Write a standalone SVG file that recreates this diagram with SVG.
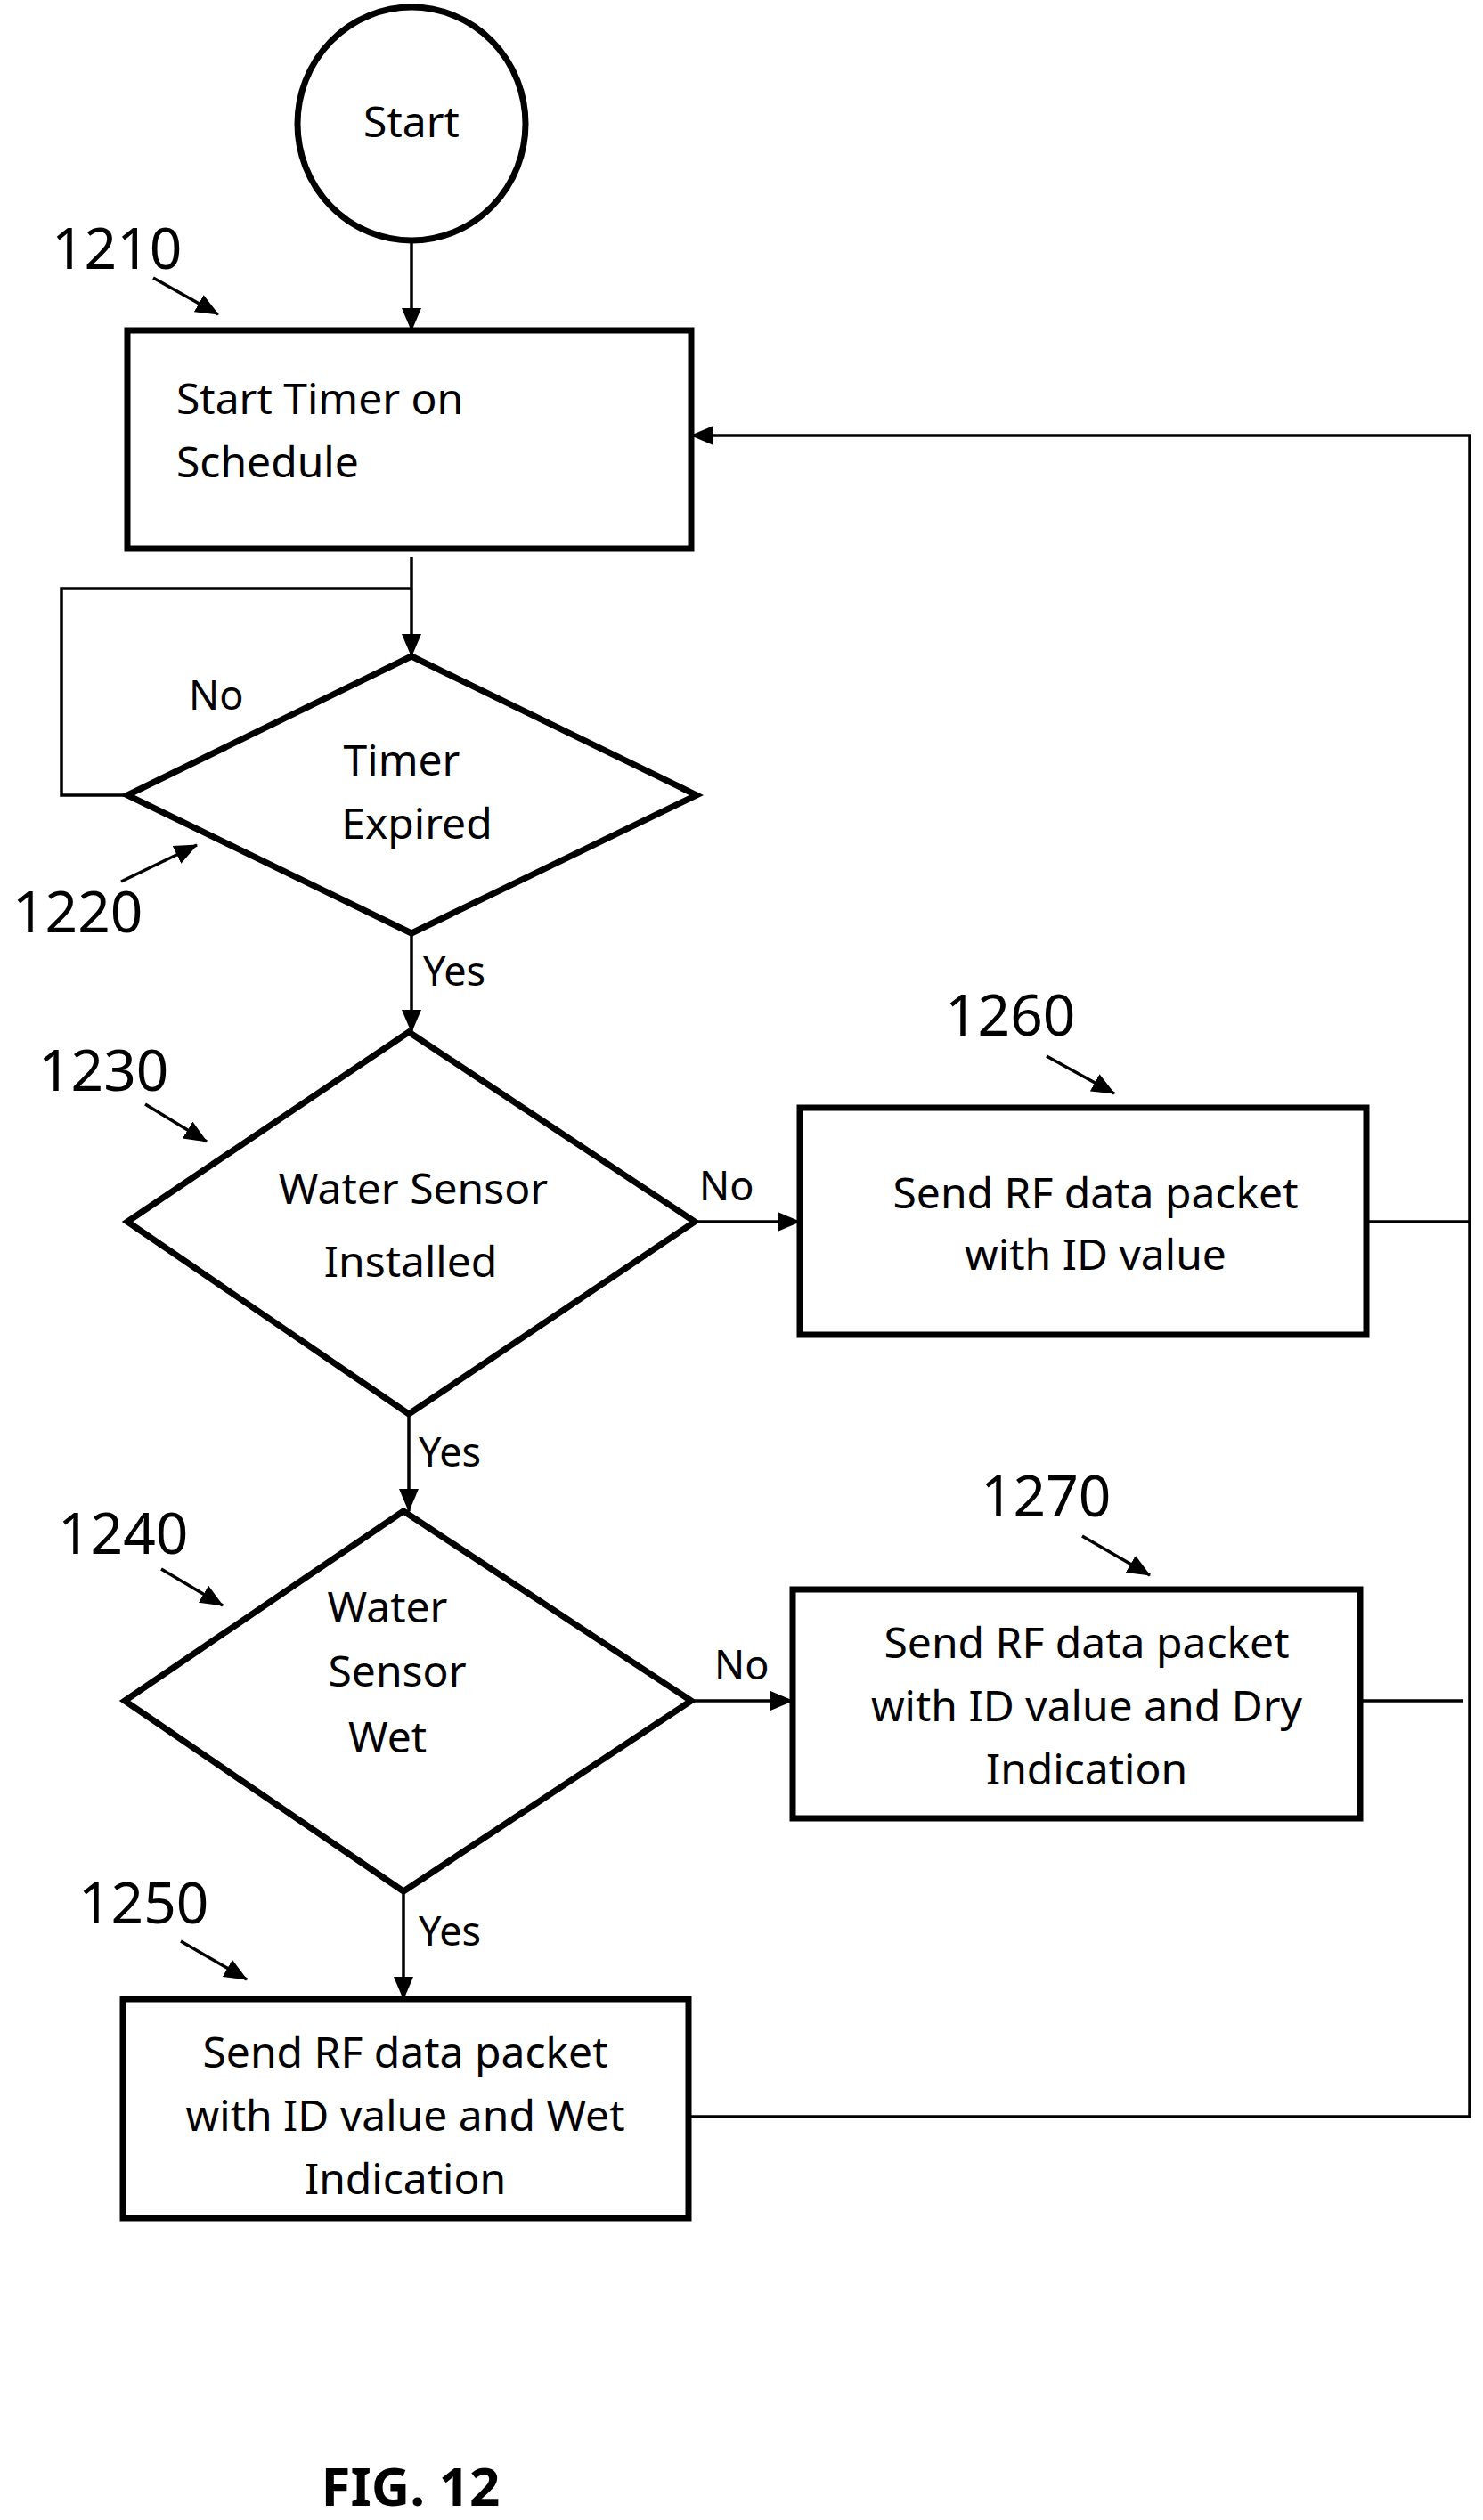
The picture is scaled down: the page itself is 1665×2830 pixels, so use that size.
<svg xmlns="http://www.w3.org/2000/svg" width="1665" height="2830" viewBox="0 0 1665 2830">
<style>
text{font-family:"Noto Sans","Open Sans",sans-serif;fill:#000}
.t{font-size:48px;text-anchor:middle}
.l{font-size:45px}
.n{font-size:64px}
.node{fill:none;stroke:#000;stroke-width:7}
.c{fill:none;stroke:#000;stroke-width:3.5}
</style>
<defs>
<marker id="b" markerWidth="26" markerHeight="22" refX="25" refY="11" orient="auto" markerUnits="userSpaceOnUse" viewBox="0 0 26 22"><path d="M0,0L26,11L0,22z"/></marker>
</defs>
<rect width="1665" height="2830" fill="#fff"/>
<g id="connectors">
<path class="c" d="M462,272V371" marker-end="url(#b)"/>
<path class="c" d="M462,625V737" marker-end="url(#b)"/>
<path class="c" d="M462,661H69V893H143"/>
<path class="c" d="M462,1048V1159" marker-end="url(#b)"/>
<path class="c" d="M780,1372H898" marker-end="url(#b)"/>
<path class="c" d="M459,1588V1697" marker-end="url(#b)"/>
<path class="c" d="M776,1910H890" marker-end="url(#b)"/>
<path class="c" d="M453,2124V2245" marker-end="url(#b)"/>
<path class="c" d="M1534,1372H1650"/>
<path class="c" d="M1527,1910H1643"/>
<path class="c" d="M773,2377H1650V489H776" marker-end="url(#b)"/>
<text class="l" x="212" y="797">No</text>
<text class="l" x="475" y="1107">Yes</text>
<text class="l" x="785" y="1348">No</text>
<text class="l" x="470" y="1647">Yes</text>
<text class="l" x="802" y="1886">No</text>
<text class="l" x="470" y="2185">Yes</text>
</g>
<g id="start"><ellipse class="node" cx="462" cy="139" rx="128" ry="131"/><text class="t" x="462" y="154">Start</text></g>
<g id="n1210"><rect class="node" x="143" y="371" width="633" height="245"/><text class="t" x="198" y="465" style="text-anchor:start">Start Timer on</text><text class="t" x="198" y="536" style="text-anchor:start">Schedule</text>
<text class="n" x="58" y="302">1210</text><path class="c" d="M172,312L245,353" marker-end="url(#b)"/></g>
<g id="n1220"><path class="node" d="M462,737L782,893L462,1048L143,893Z"/><text class="t" x="451" y="871">Timer</text><text class="t" x="468" y="942">Expired</text>
<text class="n" x="14" y="1047">1220</text><path class="c" d="M136,990L221,949" marker-end="url(#b)"/></g>
<g id="n1230"><path class="node" d="M459,1159L780,1372L459,1588L143,1372Z"/><text class="t" x="464" y="1352">Water Sensor</text><text class="t" x="461" y="1434">Installed</text>
<text class="n" x="43" y="1225">1230</text><path class="c" d="M163,1240L232,1282" marker-end="url(#b)"/></g>
<g id="n1240"><path class="node" d="M453,1697L776,1910L453,2124L140,1910Z"/><text class="t" x="435" y="1822">Water</text><text class="t" x="446" y="1894">Sensor</text><text class="t" x="435" y="1968">Wet</text>
<text class="n" x="65" y="1745">1240</text><path class="c" d="M181,1762L250,1803" marker-end="url(#b)"/></g>
<g id="n1250"><rect class="node" x="138" y="2245" width="635" height="246"/><text class="t" x="455" y="2322">Send RF data packet</text><text class="t" x="455" y="2393">with ID value and Wet</text><text class="t" x="455" y="2464">Indication</text>
<text class="n" x="88" y="2160">1250</text><path class="c" d="M203,2180L277,2223" marker-end="url(#b)"/></g>
<g id="n1260"><rect class="node" x="898" y="1244" width="636" height="255"/><text class="t" x="1230" y="1357">Send RF data packet</text><text class="t" x="1230" y="1426">with ID value</text>
<text class="n" x="1061" y="1163">1260</text><path class="c" d="M1175,1186L1251,1228" marker-end="url(#b)"/></g>
<g id="n1270"><rect class="node" x="890" y="1785" width="637" height="257"/><text class="t" x="1220" y="1862">Send RF data packet</text><text class="t" x="1220" y="1933">with ID value and Dry</text><text class="t" x="1220" y="2004">Indication</text>
<text class="n" x="1101" y="1703">1270</text><path class="c" d="M1215,1725L1291,1769" marker-end="url(#b)"/></g>
<text x="461" y="2814" style="font-size:60px;font-weight:bold;text-anchor:middle">FIG. 12</text>
</svg>
